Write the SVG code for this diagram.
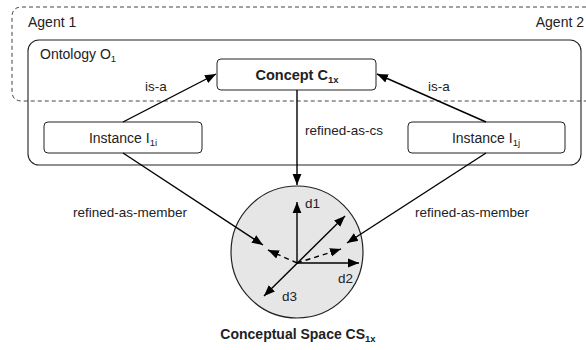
<svg xmlns="http://www.w3.org/2000/svg" width="586" height="350" viewBox="0 0 586 350">
<defs>
<marker id="ah" viewBox="0 0 10 10" refX="10" refY="5" markerWidth="11" markerHeight="11" markerUnits="userSpaceOnUse" orient="auto-start-reverse"><path d="M0,1 L10,5 L0,9 z" fill="#000"/></marker>
</defs>
<style>
text{font-family:"Liberation Sans",Arial,Helvetica,sans-serif;fill:#222}
.lbl{font-size:13.5px}
.ttl{font-size:14px}
.box{fill:#fff;stroke:#222;stroke-width:1}
.edge{stroke:#000;stroke-width:1.4;fill:none}
.dash{stroke:#000;stroke-width:1.4;fill:none;stroke-dasharray:5 4}
.agent{fill:none;stroke:#444;stroke-width:1;stroke-dasharray:4 3}
.sub{font-size:9.5px}
</style>
<rect width="586" height="350" fill="#fff"/>
<g id="agents">
<path class="agent" d="M586,7 H22 Q12,7 12,17 V91 Q12,101 22,101 H586"/>
<text class="ttl" x="28" y="27">Agent 1</text>
<text class="ttl" x="584" y="27" text-anchor="end">Agent 2</text>
</g>
<g id="ontology">
<rect x="28" y="40" width="553" height="125" rx="11" fill="none" stroke="#222" stroke-width="1.1"/>
<text class="ttl" x="40" y="59">Ontology O<tspan class="sub" dy="3">1</tspan></text>
</g>
<g id="cspace">
<circle cx="297" cy="252" r="66" fill="#e6e6e6" stroke="#222" stroke-width="1.2"/>
<text x="298" y="339" text-anchor="middle" font-weight="bold" font-size="14">Conceptual Space CS<tspan class="sub" dy="3">1x</tspan></text>
</g>
<g id="concept">
<rect class="box" x="217" y="59" width="159" height="31" rx="4"/>
<text x="297" y="80" text-anchor="middle" font-weight="bold" font-size="14.5">Concept C<tspan class="sub" dy="3">1x</tspan></text>
</g>
<g id="inst1i">
<rect class="box" x="44" y="122" width="158" height="31" rx="4"/>
<text class="ttl" x="123" y="143" text-anchor="middle">Instance I<tspan class="sub" dy="3">1i</tspan></text>
</g>
<g id="inst1j">
<rect class="box" x="408" y="122" width="157" height="31" rx="4"/>
<text class="ttl" x="486" y="143" text-anchor="middle">Instance I<tspan class="sub" dy="3">1j</tspan></text>
</g>
<g id="connectors">
<line class="edge" x1="123" y1="122" x2="216" y2="74" marker-end="url(#ah)"/>
<line class="edge" x1="486" y1="122" x2="377" y2="74" marker-end="url(#ah)"/>
<line class="edge" x1="297" y1="90" x2="297" y2="185" marker-end="url(#ah)"/>
<line class="edge" x1="123" y1="153" x2="263" y2="245" marker-end="url(#ah)"/>
<line class="edge" x1="486" y1="153" x2="347" y2="243" marker-end="url(#ah)"/>
<line class="edge" x1="297" y1="263" x2="297" y2="202" marker-end="url(#ah)"/>
<line class="edge" x1="297" y1="263" x2="359" y2="263" marker-end="url(#ah)"/>
<line class="edge" x1="264" y1="296" x2="345" y2="216" marker-start="url(#ah)" marker-end="url(#ah)"/>
<line class="dash" x1="297" y1="263" x2="268" y2="250" marker-end="url(#ah)"/>
<line class="dash" x1="297" y1="263" x2="341" y2="249" marker-end="url(#ah)"/>
<text class="lbl" x="145" y="91">is-a</text>
<text class="lbl" x="428" y="91">is-a</text>
<text class="lbl" x="305" y="135">refined-as-cs</text>
<text class="lbl" x="73" y="217">refined-as-member</text>
<text class="lbl" x="415" y="217">refined-as-member</text>
<text class="lbl" x="305" y="208">d1</text>
<text class="lbl" x="338" y="283">d2</text>
<text class="lbl" x="282" y="301">d3</text>
</g>
</svg>
